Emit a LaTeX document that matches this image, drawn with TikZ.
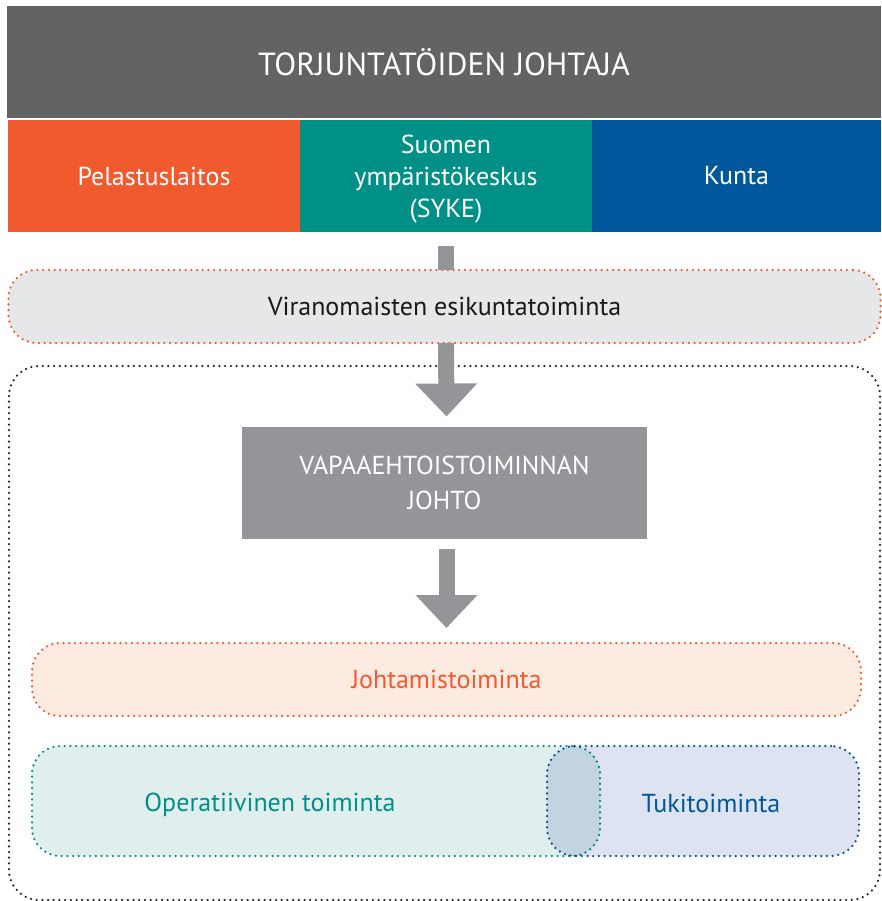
\documentclass[tikz,border=0pt]{standalone}
\usepackage{fontspec}
\setmainfont{PT Sans}
\usetikzlibrary{arrows.meta}
\definecolor{darkgrey}{HTML}{636365}
\definecolor{midgrey}{HTML}{939598}
\definecolor{lightgrey}{HTML}{E6E7E8}
\definecolor{fireorange}{HTML}{F15A2E}
\definecolor{sea}{HTML}{009088}
\definecolor{navy}{HTML}{00579B}
\definecolor{peach}{HTML}{FDEBE1}
\definecolor{mint}{HTML}{E0EFEE}
\definecolor{ice}{HTML}{DDE3F0}
\begin{document}
\begin{tikzpicture}[
x=1pt,y=-1pt,
every node/.style={outer sep=0pt,inner sep=0pt,align=center,font=\fontsize{26}{32}\selectfont},
headbox/.style={fill=#1,text=white},
dotline/.style={draw=#1,line width=2.5pt,line cap=round,dash pattern=on 0pt off 5.7pt},
pillbox/.style={rounded corners=28pt,dotline=#1},
bigarrow/.style={draw=midgrey,line width=16pt,-{Triangle[width=60pt,length=33pt]}},
]
\useasboundingbox (0,0) rectangle (881,901);
% leaders
\node[headbox=darkgrey,minimum width=874,minimum height=112,font=\fontsize{32}{36}\selectfont] (johtaja) at (444,62) {TORJUNTATÖIDEN JOHTAJA};
\node[headbox=fireorange,minimum width=292,minimum height=112] (pelastus) at (154,176) {Pelastuslaitos};
\node[headbox=sea,minimum width=292,minimum height=112] (syke) at (446,176) {};
\node[text=white] at ([yshift=-3pt]syke.center) {Suomen\\ympäristökeskus\\(SYKE)};
\node[headbox=navy,minimum width=289,minimum height=112] (kunta) at (736.5,176) {Kunta};
% volunteer frame
\draw[dotline=black!85,rounded corners=30pt] (9,366) rectangle (880,900);
\node[pillbox=fireorange,fill=lightgrey,text=black!90,minimum width=872,minimum height=73] (esikunta) at (444.5,306.5) {Viranomaisten esikuntatoiminta};
\coordinate (stub) at (446,246);
\fill[midgrey] ([xshift=-8pt]stub) rectangle ([xshift=8pt]stub |- esikunta.north);
\node[headbox=midgrey,minimum width=405,minimum height=112,font=\fontsize{26}{35}\selectfont] (vapaa) at (444.5,482.5) {VAPAAEHTOISTOIMINNAN\\JOHTO};
\node[pillbox=fireorange,fill=peach,text=fireorange,minimum width=829,minimum height=73] (johtamis) at (446.5,679.5) {Johtamistoiminta};
\node[pillbox=sea,fill=mint,text=sea,minimum width=568,minimum height=110] (operat) at (316,801) {};
\begin{scope}[blend mode=multiply]
\node[pillbox=navy,fill=ice,minimum width=312,minimum height=110] (tuki) at (703,801) {};
\end{scope}
\node[text=sea] at (270,805) {Operatiivinen toiminta};
\node[text=navy] at (711,803) {Tukitoiminta};
% arrows
\draw[bigarrow] ([xshift=1.5pt]esikunta.south) -- ([yshift=10pt,xshift=2pt]vapaa.north);
\draw[bigarrow] ([yshift=-10pt,xshift=2pt]vapaa.south) -- ([yshift=15pt]johtamis.north);
\end{tikzpicture}
\end{document}
